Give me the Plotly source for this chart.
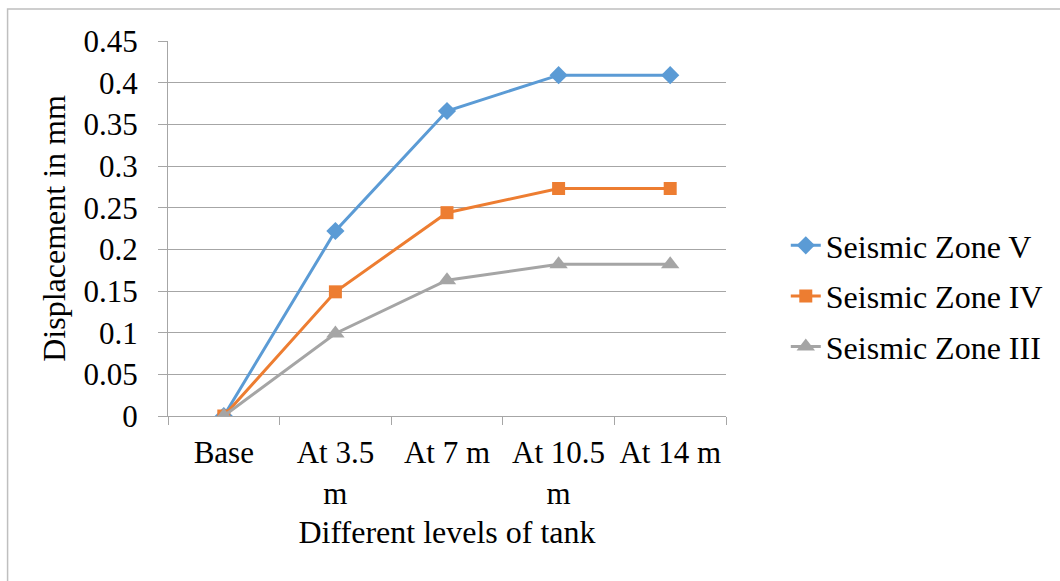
import plotly.graph_objects as go

categories = ["Base", "At 3.5<br>m", "At 7 m", "At 10.5<br>m", "At 14 m"]
zone_v = [0.0, 0.222, 0.366, 0.409, 0.409]
zone_iv = [0.0, 0.149, 0.244, 0.273, 0.273]
zone_iii = [0.0, 0.099, 0.163, 0.182, 0.182]
y_ticks = [0, 0.05, 0.1, 0.15, 0.2, 0.25, 0.3, 0.35, 0.4, 0.45]
y_tick_labels = ["0", "0.05", "0.1", "0.15", "0.2", "0.25", "0.3", "0.35", "0.4", "0.45"]

FONT = "Liberation Serif, Times New Roman, serif"
FS = 31
FT = 32
W, H = 1060, 581
L, R, T, B = 168, 332, 41, 165
pw, ph = W - L - R, H - T - B

fig = go.Figure()
series = [
    ("Seismic Zone V", zone_v, "#5B9BD5", "diamond", 14),
    ("Seismic Zone IV", zone_iv, "#ED7D31", "square", 13),
    ("Seismic Zone III", zone_iii, "#A5A5A5", "triangle-up", 16),
]
for name, vals, col, sym, sz in series:
    fig.add_trace(go.Scatter(
        x=categories, y=vals, name=name, mode="lines+markers",
        line=dict(color=col, width=3),
        marker=dict(symbol=sym, size=sz, color=col),
        legendgroup=name,
    ))

def px_to_paper_x(px):
    return (px - L) / pw

def px_to_paper_y(py):
    return (H - B - py) / ph

# outer border (chart area)
fig.add_shape(type="rect", xref="paper", yref="paper",
              x0=px_to_paper_x(7), x1=px_to_paper_x(1080),
              y0=px_to_paper_y(600), y1=px_to_paper_y(9),
              line=dict(color="#BFBFBF", width=1.5), fillcolor="rgba(0,0,0,0)", layer="below")

fig.update_layout(
    width=W, height=H,
    margin=dict(l=L, r=R, t=T, b=B, pad=0),
    paper_bgcolor="white", plot_bgcolor="white",
    font=dict(family=FONT, size=FS, color="black"),
    showlegend=True,
    legend=dict(x=px_to_paper_x(788), y=px_to_paper_y(218), xanchor="left", yanchor="top",
                font=dict(size=FT, family=FONT), tracegroupgap=6,
                bgcolor="rgba(0,0,0,0)", itemwidth=30),
    xaxis=dict(
        type="category", range=[-0.5, 4.5],
        showline=True, linecolor="#A6A6A6", linewidth=1,
        ticks="outside", tickson="boundaries", ticklen=8, tickcolor="#A6A6A6",
        showgrid=False, zeroline=False,
        tickfont=dict(size=FS, family=FONT), ticklabelstandoff=9,
        title=dict(text="Different levels of tank", font=dict(size=FT, family=FONT), standoff=11),
    ),
    yaxis=dict(
        range=[0, 0.45], tickvals=y_ticks, ticktext=y_tick_labels,
        showline=True, linecolor="#A6A6A6", linewidth=1,
        ticks="outside", ticklen=9, tickcolor="#A6A6A6",
        showgrid=True, gridcolor="#A6A6A6", gridwidth=1, zeroline=False,
        tickfont=dict(size=FS, family=FONT), ticklabelstandoff=14,
        title=dict(text="Displacement in mm", font=dict(size=FT, family=FONT), standoff=8),
    ),
)

fig.write_html("out.html")
